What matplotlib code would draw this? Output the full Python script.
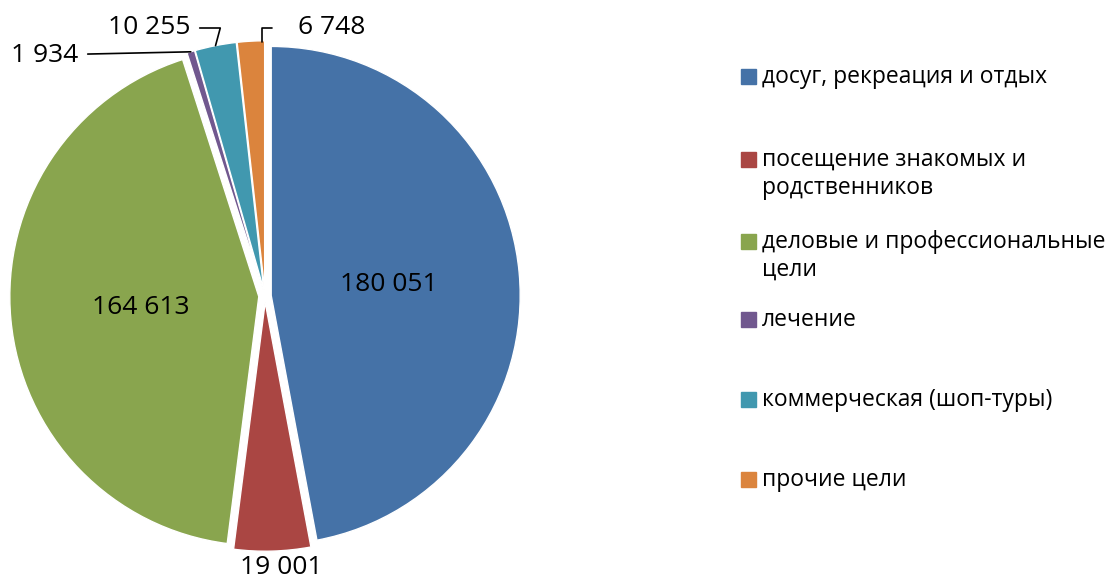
import numpy as np
import matplotlib
matplotlib.use('Agg')
from matplotlib import pyplot as plt
from matplotlib.patches import Rectangle

plt.rcParams['font.family'] = ['Open Sans', 'DejaVu Sans']

categories = ['досуг, рекреация и отдых', 'посещение знакомых и\nродственников',
              'деловые и профессиональные\nцели', 'лечение',
              'коммерческая (шоп-туры)', 'прочие цели']
values = [180051, 19001, 164613, 1934, 10255, 6748]
colors = ['#4572A7', '#AA4643', '#89A54E', '#71588F', '#4198AF', '#DB843D']

W, H = 1110, 583
cx, cy = 265, 296  # pie centre, pixels from top-left
scale = 249.0      # pixels per unit radius

fig = plt.figure(figsize=(W / 100, H / 100), dpi=100)
ax = fig.add_axes([0, 0, 1, 1])

wedges, _ = ax.pie(values, colors=colors, startangle=90, counterclock=False,
                   explode=[0.025] * len(values), radius=1,
                   wedgeprops=dict(edgecolor='white', linewidth=1))
ax.set_aspect('auto')
ax.set_xlim(-cx / scale, (W - cx) / scale)
ax.set_ylim(-(H - cy) / scale, cy / scale)
ax.axis('off')


def fmt(v):
    return '{:,}'.format(v).replace(',', ' ')


def mid(w):
    a = np.deg2rad((w.theta1 + w.theta2) / 2)
    return np.cos(a), np.sin(a)


def px(x, y):
    return (x - cx) / scale, (cy - y) / scale


fs = 19
# inside labels for the two big slices
for i in (0, 2):
    c, s = mid(wedges[i])
    ax.text(0.5 * c, 0.5 * s, fmt(values[i]), ha='center', va='center', fontsize=fs)

# red slice, just below the edge
c, s = mid(wedges[1])
ax.text(1.1 * c + 0.035, 1.1 * s + 0.008, fmt(values[1]), ha='center', va='center',
        fontsize=fs)

# small slices with leader lines
outside = {3: ((78, 55), 'right', 'arc3', 5),
           4: ((190, 28), 'right', 'angle,angleA=0,angleB=75,rad=0', 5),
           5: ((298, 28), 'left', 'angle,angleA=0,angleB=90,rad=0', 17)}
for i, (pos, ha, conn, gap) in outside.items():
    c, s = mid(wedges[i])
    r = 1.025
    target = (r * c, r * s)
    if i == 5:
        target = (r * c + 0.045, r * s - 0.005)
    ax.annotate(fmt(values[i]), xy=target, xytext=px(*pos), ha=ha, va='center',
                fontsize=fs,
                arrowprops=dict(arrowstyle='-', color='black', lw=1.2,
                                connectionstyle=conn, shrinkA=gap, shrinkB=0))

# legend
leg_y = [77, 160, 242, 320, 400, 480]
for lab, col, y in zip(categories, colors, leg_y):
    ax.add_patch(Rectangle(px(741, y + 7), 15 / scale, 15 / scale, color=col,
                           clip_on=False))
    ax.text(*px(762, y - 12), lab, ha='left', va='top', fontsize=16.5,
            linespacing=1.2)

fig.savefig('out.png', dpi=100)
